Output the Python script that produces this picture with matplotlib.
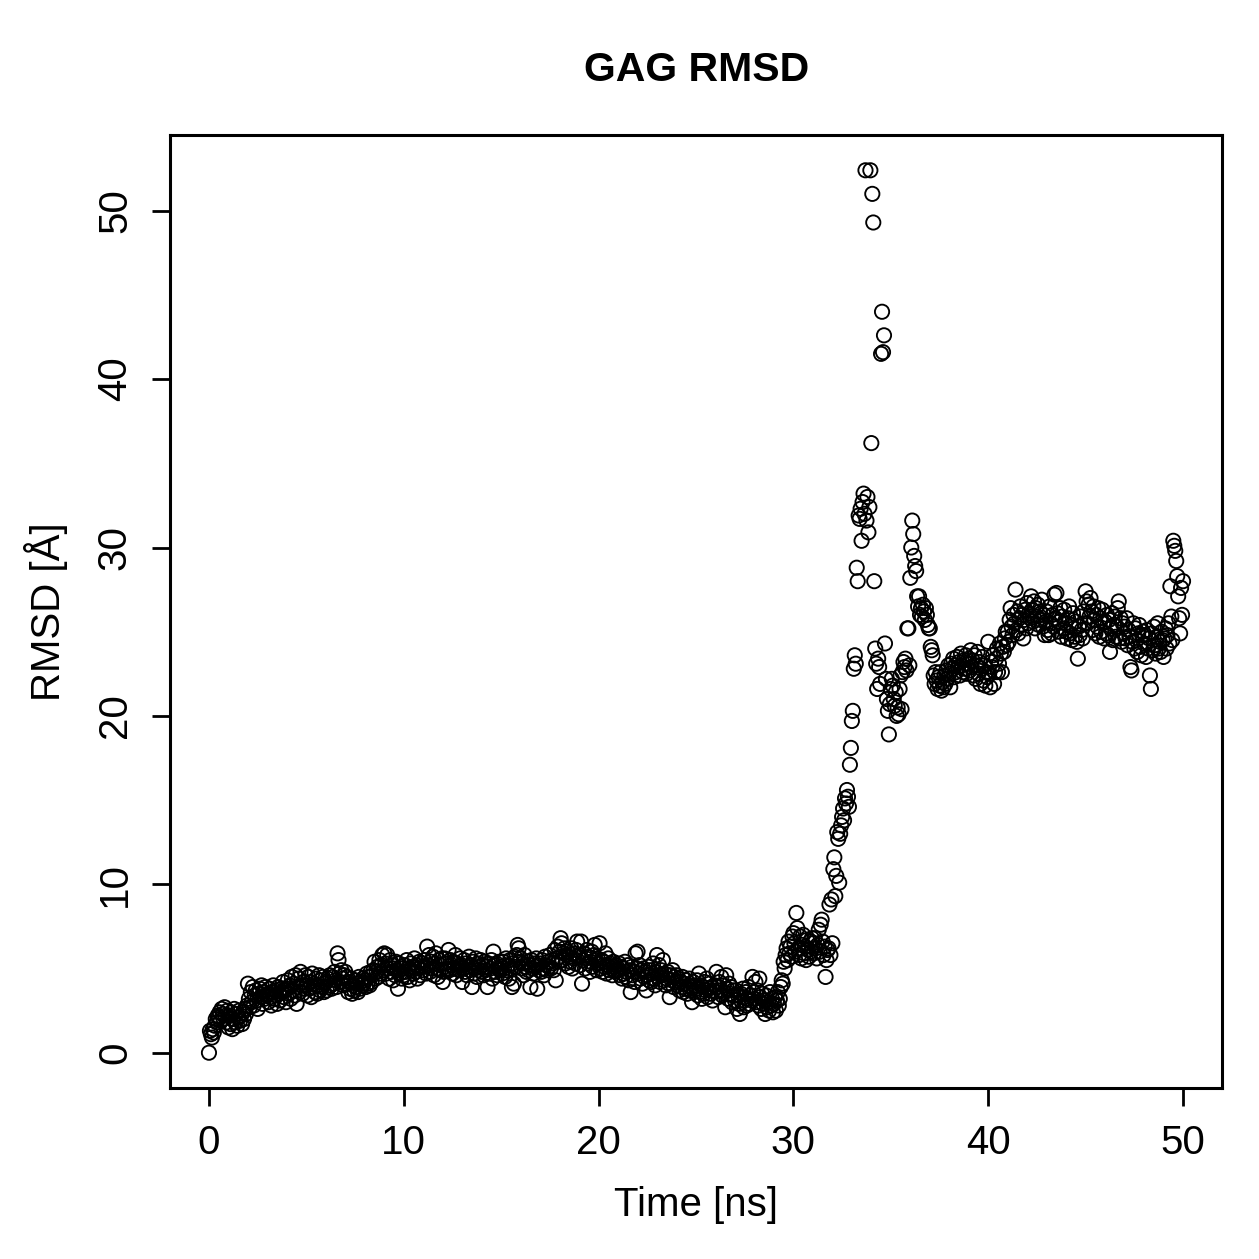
import numpy as np
import matplotlib
matplotlib.use("Agg")
import matplotlib.pyplot as plt

# RMSD values (Å), one row per nanosecond, sampled every 0.05 ns
rmsd_rows = [
    [0.0, 1.3, 1.1, 0.9, 1.4, 1.2, 1.6, 2.0, 1.8, 2.2, 2.1, 2.4, 1.9, 2.6, 2.3, 2.0, 2.7, 2.2, 1.8, 2.5],
    [1.5, 2.2, 1.7, 2.4, 1.4, 2.0, 2.6, 1.8, 2.3, 1.6, 2.1, 2.5, 1.9, 2.2, 1.7, 2.4, 2.0, 2.6, 2.3, 2.8],
    [4.1, 3.2, 2.7, 3.6, 3.0, 3.9, 2.8, 3.4, 3.7, 3.1, 2.6, 3.5, 3.8, 3.3, 4.0, 2.9, 3.6, 3.2, 3.9, 3.4],
    [3.5, 3.0, 3.8, 3.3, 2.8, 3.6, 4.0, 3.2, 3.7, 3.4, 2.9, 3.9, 3.5, 3.1, 3.8, 3.6, 4.2, 3.3, 3.7, 3.0],
    [3.8, 4.3, 3.5, 4.0, 3.2, 4.5, 3.7, 4.1, 3.4, 4.6, 2.9, 3.9, 4.4, 3.6, 4.8, 4.0, 3.5, 4.2, 3.8, 4.6],
    [4.0, 3.4, 4.5, 3.8, 4.2, 3.3, 4.7, 3.9, 4.1, 3.6, 4.4, 3.5, 4.0, 4.6, 3.7, 4.3, 3.9, 4.5, 3.6, 4.1],
    [4.2, 3.7, 4.4, 3.9, 4.6, 4.0, 3.8, 4.5, 4.1, 4.8, 4.3, 3.9, 5.9, 5.5, 4.7, 4.2, 4.9, 4.4, 4.0, 4.6],
    [4.8, 4.1, 4.5, 3.6, 4.2, 3.8, 4.4, 3.5, 4.0, 3.7, 4.3, 3.9, 4.1, 3.6, 4.5, 3.8, 4.2, 4.0, 4.4, 4.1],
    [4.3, 3.9, 4.7, 4.1, 4.5, 4.0, 4.8, 4.2, 4.6, 4.9, 5.4, 4.4, 4.8, 5.1, 4.5, 5.5, 4.7, 5.2, 5.8, 4.9],
    [5.9, 5.3, 4.7, 5.8, 5.0, 4.4, 5.5, 4.8, 5.2, 4.3, 5.0, 4.6, 5.4, 4.9, 3.8, 5.3, 4.7, 5.1, 4.4, 5.0],
    [4.6, 5.2, 4.8, 5.5, 4.5, 5.0, 4.3, 5.3, 4.9, 5.1, 4.7, 5.6, 4.8, 5.2, 4.4, 5.0, 5.4, 4.6, 5.1, 5.3],
    [4.9, 5.5, 5.1, 4.7, 6.3, 5.2, 5.8, 4.8, 5.4, 5.0, 5.7, 4.6, 5.3, 5.9, 5.0, 4.5, 5.5, 5.2, 4.9, 5.6],
    [4.2, 4.8, 5.6, 5.3, 4.9, 5.0, 6.1, 4.9, 5.5, 5.2, 4.7, 5.4, 5.0, 5.8, 4.6, 5.3, 5.1, 4.9, 5.6, 5.2],
    [4.2, 5.0, 5.5, 4.8, 5.3, 4.6, 5.1, 5.7, 4.9, 5.2, 3.9, 5.4, 4.7, 5.0, 5.6, 4.5, 5.3, 4.9, 5.1, 5.5],
    [4.8, 5.2, 4.6, 5.4, 4.9, 5.1, 3.9, 5.3, 4.7, 5.0, 5.5, 4.4, 6.0, 5.2, 4.8, 5.3, 4.6, 5.0, 5.4, 4.9],
    [5.1, 4.7, 5.4, 5.0, 4.5, 5.6, 4.9, 5.2, 4.4, 5.5, 5.0, 3.9, 5.3, 4.1, 5.7, 5.1, 5.8, 6.4, 6.2, 5.4],
    [5.6, 5.0, 5.3, 4.6, 5.8, 5.1, 4.8, 5.4, 4.9, 5.2, 3.9, 5.5, 5.0, 4.7, 5.3, 5.1, 5.6, 3.8, 5.2, 4.9],
    [5.3, 4.8, 5.5, 5.0, 4.6, 5.7, 5.2, 4.9, 5.4, 5.1, 5.8, 5.0, 5.5, 5.3, 4.9, 6.1, 4.3, 5.6, 6.3, 5.4],
    [6.0, 6.8, 6.5, 5.5, 5.9, 6.2, 5.3, 5.8, 6.0, 5.1, 5.7, 5.4, 6.2, 5.0, 5.6, 5.9, 5.3, 6.1, 6.6, 5.7],
    [5.8, 5.2, 6.6, 4.1, 5.5, 5.9, 5.0, 5.6, 6.1, 5.3, 5.7, 4.8, 5.4, 6.0, 5.1, 5.8, 6.4, 5.5, 4.9, 5.6],
    [5.3, 6.5, 5.0, 5.5, 4.8, 5.4, 5.1, 5.9, 4.7, 5.2, 5.6, 4.9, 5.3, 5.0, 4.6, 5.4, 5.1, 4.8, 5.2, 4.9],
    [4.9, 5.3, 4.6, 5.1, 4.4, 5.0, 4.7, 5.4, 4.5, 4.8, 5.2, 4.3, 4.9, 3.6, 5.1, 4.6, 4.8, 4.2, 5.9, 5.0],
    [6.0, 4.7, 5.2, 4.4, 4.9, 4.1, 5.0, 4.5, 4.8, 3.7, 4.6, 5.1, 4.3, 4.9, 4.2, 4.7, 5.3, 4.4, 4.0, 4.8],
    [5.8, 4.5, 5.2, 4.2, 4.9, 4.6, 5.5, 4.3, 4.7, 4.0, 4.4, 4.8, 4.1, 3.3, 4.6, 4.3, 4.9, 3.9, 4.5, 4.2],
    [4.6, 4.0, 4.4, 3.7, 4.2, 3.9, 4.5, 3.6, 4.1, 3.8, 4.3, 3.5, 4.0, 4.4, 3.7, 3.9, 3.0, 4.2, 3.6, 4.0],
    [3.8, 4.3, 3.4, 4.7, 3.6, 4.0, 3.2, 3.9, 3.5, 4.2, 3.7, 4.4, 3.3, 3.8, 4.1, 3.5, 3.9, 3.1, 3.7, 4.0],
    [3.6, 4.8, 3.9, 3.3, 4.2, 3.7, 4.5, 3.4, 4.0, 3.6, 2.7, 4.6, 3.8, 3.2, 4.1, 3.5, 3.9, 3.0, 3.7, 3.4],
    [3.1, 3.7, 2.6, 3.4, 2.9, 2.3, 3.5, 3.0, 3.8, 2.7, 3.3, 3.6, 2.8, 3.2, 3.9, 2.9, 3.4, 3.1, 4.5, 3.6],
    [3.2, 4.2, 3.0, 3.7, 2.8, 4.4, 3.3, 2.6, 3.5, 2.9, 3.1, 2.3, 3.4, 2.7, 3.0, 2.5, 3.6, 2.8, 3.2, 2.4],
    [2.9, 3.3, 2.5, 3.1, 3.6, 2.8, 3.2, 3.9, 4.3, 4.1, 5.4, 5.0, 5.8, 6.2, 5.5, 6.6, 5.9, 6.3, 5.7, 6.9],
    [7.1, 6.5, 6.0, 8.3, 7.4, 6.2, 5.8, 6.9, 5.6, 6.4, 7.0, 5.9, 6.3, 5.5, 6.7, 6.1, 5.7, 6.6, 6.0, 6.8],
    [6.5, 5.9, 6.8, 6.2, 5.6, 6.4, 7.3, 6.0, 7.6, 7.9, 6.6, 5.8, 6.3, 4.5, 5.5, 6.1, 6.2, 8.8, 5.8, 9.1],
    [6.5, 10.9, 11.6, 9.3, 10.5, 13.1, 12.7, 10.1, 13.0, 13.5, 14.0, 14.5, 13.8, 15.1, 14.8, 15.6, 15.2, 14.6, 17.1, 18.1],
    [19.7, 20.3, 22.8, 23.6, 23.1, 28.8, 28.0, 31.9, 31.7, 32.3, 30.4, 32.7, 33.2, 32.0, 52.4, 31.6, 33.0, 30.9, 32.4, 52.4],
    [36.2, 51.0, 49.3, 28.0, 24.0, 23.1, 21.6, 23.4, 22.9, 21.9, 41.5, 44.0, 41.6, 42.6, 24.3, 22.2, 21.0, 20.3, 18.9, 20.7],
    [21.6, 22.2, 21.8, 21.0, 20.6, 21.4, 20.0, 20.5, 20.1, 21.6, 22.4, 20.4, 22.6, 23.2, 22.9, 23.4, 22.7, 25.2, 25.2, 23.0],
    [28.2, 30.0, 31.6, 30.8, 29.5, 28.9, 28.6, 27.1, 26.5, 27.1, 26.0, 26.4, 25.9, 26.6, 26.2, 25.7, 26.4, 26.0, 25.4, 25.2],
    [25.2, 24.1, 23.9, 23.6, 22.4, 21.9, 22.6, 22.1, 21.6, 22.3, 21.8, 22.6, 21.5, 22.0, 21.7, 22.4, 21.9, 22.7, 22.2, 23.0],
    [22.5, 21.7, 23.1, 22.8, 23.4, 22.3, 23.0, 22.6, 23.5, 22.9, 23.2, 22.4, 23.7, 23.0, 22.6, 23.3, 22.8, 23.6, 22.5, 23.1],
    [23.4, 22.7, 23.9, 22.9, 23.3, 22.4, 23.6, 22.2, 23.0, 23.8, 22.5, 23.2, 21.9, 22.8, 23.5, 22.1, 23.0, 21.8, 22.6, 22.3],
    [24.4, 22.5, 21.7, 23.2, 22.9, 23.6, 21.9, 22.6, 23.4, 24.0, 22.6, 23.1, 24.3, 23.7, 22.6, 24.1, 23.8, 24.6, 25.0, 24.2],
    [25.0, 24.4, 25.7, 26.4, 25.3, 24.8, 26.0, 25.5, 27.5, 25.1, 26.2, 24.9, 25.8, 26.5, 25.4, 26.0, 24.6, 25.7, 26.3, 25.2],
    [26.7, 25.5, 26.1, 25.8, 27.1, 26.3, 25.6, 26.8, 25.2, 26.4, 25.9, 26.6, 25.4, 26.2, 25.7, 26.9, 25.3, 26.0, 24.8, 25.6],
    [26.2, 25.1, 24.8, 26.5, 25.5, 24.9, 26.0, 25.3, 27.2, 25.8, 27.3, 26.1, 25.0, 25.6, 26.4, 24.7, 25.9, 25.2, 26.3, 25.5],
    [25.0, 24.6, 25.8, 26.5, 24.9, 25.4, 24.5, 26.1, 25.2, 24.7, 25.6, 24.4, 23.4, 25.3, 24.8, 25.9, 25.1, 24.6, 26.2, 25.5],
    [27.4, 26.8, 25.5, 26.6, 25.9, 27.0, 26.2, 25.1, 26.5, 25.7, 24.9, 26.0, 25.3, 26.4, 24.7, 25.8, 25.0, 26.3, 25.5, 24.6],
    [25.6, 24.9, 26.0, 24.8, 25.7, 23.8, 25.2, 26.1, 24.5, 25.4, 25.9, 24.7, 25.3, 26.4, 26.8, 24.6, 25.8, 24.4, 25.5, 24.9],
    [25.3, 24.6, 25.8, 24.2, 25.1, 24.7, 22.9, 22.7, 24.4, 25.5, 24.0, 25.2, 24.5, 23.8, 24.9, 25.4, 24.1, 23.6, 24.8, 25.0],
    [24.3, 24.8, 23.5, 25.1, 24.0, 24.6, 22.4, 21.6, 24.9, 23.9, 25.3, 24.2, 23.7, 24.7, 25.5, 24.0, 24.4, 23.8, 25.0, 24.5],
    [23.5, 24.6, 25.2, 24.0, 24.8, 25.5, 24.3, 27.7, 25.9, 24.5, 30.4, 30.1, 29.8, 29.2, 28.3, 27.1, 25.8, 24.9, 27.6, 26.0],
]
rmsd_last = [28.0]

time_step_ns = 0.05
x_ticks = [0, 10, 20, 30, 40, 50]
y_ticks = [0, 10, 20, 30, 40, 50]
title = "GAG RMSD"
x_label = "Time [ns]"
y_label = "RMSD [Å]"

rmsd = np.concatenate([np.ravel(rmsd_rows), rmsd_last])
time = np.arange(len(rmsd)) * time_step_ns

plt.rcParams["font.family"] = ["Liberation Sans", "DejaVu Sans"]

fig = plt.figure(figsize=(12.59, 12.59), dpi=100)
ax = fig.add_axes([170 / 1259, 1 - 1088 / 1259, (1222 - 170) / 1259, (1088 - 135) / 1259])

ax.scatter(time, rmsd, s=105, facecolors="none", edgecolors="black", linewidths=1.35)

xr = time.max() - time.min()
yr = rmsd.max() - rmsd.min()
ax.set_xlim(time.min() - 0.04 * xr, time.max() + 0.04 * xr)
ax.set_ylim(rmsd.min() - 0.04 * yr, rmsd.max() + 0.04 * yr)

ax.set_xticks(x_ticks)
ax.set_yticks(y_ticks)
ax.set_xticklabels([str(v) for v in x_ticks])
ax.set_yticklabels([str(v) for v in y_ticks], rotation=90, va="center")
ax.tick_params(axis="both", direction="out", length=13, width=2.0, labelsize=29, pad=13)

for sp in ax.spines.values():
    sp.set_linewidth(2.2)

ax.set_xlabel(x_label, fontsize=29, labelpad=17)
ax.set_ylabel(y_label, fontsize=29, labelpad=20)
fig.text(697 / 1259, 1 - 70 / 1259, title, ha="center", va="center", fontsize=29.5, fontweight="bold")

fig.savefig("out.png", dpi=100)
